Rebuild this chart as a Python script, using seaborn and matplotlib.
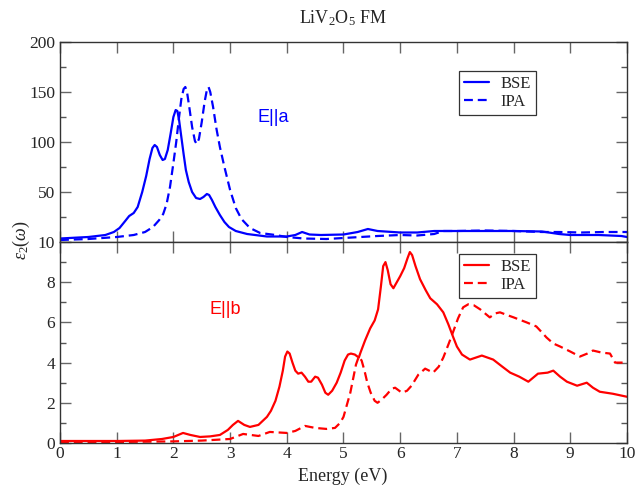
import matplotlib
matplotlib.use("Agg")
import matplotlib.pyplot as plt
import seaborn as sns
import numpy as np
import pandas as pd
from matplotlib.ticker import MultipleLocator

# ---------------- data ----------------
top_bse_e = [0, 0.5, 0.8, 0.95, 1.05, 1.15, 1.22, 1.3, 1.37, 1.45, 1.52, 1.58, 1.63, 1.67, 1.71, 1.76, 1.81,
             1.85, 1.9, 1.95, 2.0, 2.04, 2.07, 2.1, 2.14, 2.18, 2.22, 2.27, 2.33, 2.4, 2.47, 2.53, 2.59, 2.63,
             2.68, 2.74, 2.82, 2.9, 2.98, 3.1, 3.3, 3.65, 4.0, 4.15, 4.27, 4.4, 4.6, 5.0, 5.25, 5.43,
             5.6, 6.0, 6.3, 6.6, 7.0, 7.5, 8.0, 8.5, 8.8, 9.0, 9.5, 9.9, 10.0]
top_bse_v = [3.5, 5, 7, 10, 14, 21, 26, 29, 35, 50, 66, 83, 94, 97, 95, 87, 82,
             83, 92, 108, 125, 132, 131, 122, 105, 88, 72, 60, 50, 44, 43, 45, 48, 47,
             42, 35, 27, 20, 15, 11, 8, 5.5, 5.5, 7, 10, 7.5, 7, 7.5, 10, 13,
             11, 9.5, 9.5, 11, 11, 11, 11, 10.5, 8, 7, 7, 6, 5]

top_ipa_e = [0, 0.5, 1.0, 1.3, 1.5, 1.64, 1.75, 1.82, 1.88, 1.94, 2.0, 2.05, 2.1, 2.14, 2.18, 2.21, 2.24,
             2.28, 2.33, 2.38, 2.41, 2.45, 2.5, 2.55, 2.59, 2.62, 2.65, 2.7, 2.76, 2.82, 2.9, 3.0, 3.1,
             3.2, 3.35, 3.53, 3.8, 4.0, 4.3, 4.7, 5.0, 5.3, 5.6, 6.0, 6.3, 6.6,
             6.76, 7.0, 7.5, 8.0, 8.5, 8.8, 9.2, 9.6, 10.0]
top_ipa_v = [2, 3, 5, 7, 10, 15, 22, 28, 38, 55, 79, 100, 125, 143, 153, 155, 150,
             135, 115, 101, 98, 103, 120, 140, 152, 155, 150, 135, 113, 95, 75, 52, 34,
             23, 14, 9, 7, 5, 3.5, 3, 4, 5, 6, 7, 6.5, 8,
             11, 11, 11.5, 11, 10, 10, 9.5, 10, 10]

bot_bse_e = [0, 1.0, 1.5, 1.8, 2.0, 2.17, 2.3, 2.47, 2.65, 2.82, 2.96, 3.05, 3.14, 3.25, 3.35, 3.5, 3.65,
             3.72, 3.8, 3.87, 3.93, 3.97, 4.01, 4.05, 4.1, 4.15, 4.2, 4.26, 4.32, 4.38, 4.43, 4.5, 4.55,
             4.62, 4.68, 4.73, 4.8, 4.88, 4.95, 5.02, 5.08, 5.13, 5.2, 5.27, 5.3, 5.38, 5.47, 5.55, 5.61,
             5.66, 5.7, 5.74, 5.78, 5.83, 5.88, 5.94, 6.0, 6.07, 6.13, 6.17, 6.21, 6.27, 6.35, 6.45, 6.53,
             6.65, 6.76, 6.85, 6.93, 7.0, 7.09, 7.23, 7.44, 7.64, 7.8, 7.94, 8.1, 8.26, 8.43, 8.6, 8.7,
             8.82, 8.94, 9.12, 9.29, 9.4, 9.52, 9.75, 10.0]
bot_bse_v = [0.1, 0.1, 0.12, 0.2, 0.3, 0.5, 0.4, 0.3, 0.33, 0.4, 0.65, 0.9, 1.1, 0.9, 0.8, 0.9, 1.3,
             1.6, 2.1, 2.8, 3.6, 4.3, 4.55, 4.45, 4.0, 3.6, 3.45, 3.5, 3.3, 3.05, 3.05, 3.3, 3.25,
             2.9, 2.5, 2.4, 2.6, 3.0, 3.5, 4.1, 4.4, 4.45, 4.4, 4.25, 4.5, 5.1, 5.7, 6.1, 6.65,
             7.8, 8.8, 9.0, 8.6, 7.9, 7.7, 8.0, 8.3, 8.7, 9.2, 9.5, 9.35, 8.8, 8.15, 7.6, 7.2,
             6.9, 6.5, 5.9, 5.3, 4.8, 4.4, 4.15, 4.35, 4.15, 3.8, 3.5, 3.3, 3.05, 3.45, 3.5, 3.6,
             3.3, 3.05, 2.85, 3.0, 2.75, 2.55, 2.45, 2.3]

bot_ipa_e = [0, 1.0, 2.0, 2.5, 3.0, 3.23, 3.5, 3.7, 4.0, 4.15, 4.32, 4.5, 4.7, 4.85, 4.94, 5.0, 5.06, 5.12,
             5.17, 5.22, 5.27, 5.32, 5.37, 5.42, 5.48, 5.55, 5.6, 5.67, 5.76, 5.85, 5.91, 6.03, 6.12, 6.2,
             6.32, 6.44, 6.58, 6.68, 6.76, 6.85, 6.93, 7.02, 7.11, 7.2, 7.3, 7.41, 7.58, 7.68, 7.76, 7.9,
             8.0, 8.23, 8.4, 8.5, 8.58, 8.7, 8.82, 9.0, 9.17, 9.3, 9.4, 9.55, 9.7, 9.79, 10.0]
bot_ipa_v = [0.05, 0.05, 0.08, 0.12, 0.2, 0.45, 0.35, 0.55, 0.5, 0.6, 0.85, 0.75, 0.7, 0.75, 1.0, 1.3, 1.9, 2.5,
             3.2, 3.9, 4.3, 4.1, 3.6, 3.0, 2.5, 2.1, 2.0, 2.15, 2.4, 2.7, 2.75, 2.5, 2.6, 2.85,
             3.4, 3.7, 3.5, 3.8, 4.25, 4.9, 5.5, 6.2, 6.75, 6.9, 6.85, 6.65, 6.25, 6.45, 6.5, 6.35,
             6.25, 6.0, 5.8, 5.5, 5.25, 4.95, 4.8, 4.55, 4.3, 4.45, 4.6, 4.5, 4.45, 4.0, 4.0]

series_labels = ["BSE", "IPA"]
x_ticks = list(range(0, 11))
top_yticks = [0, 50, 100, 150, 200]
top_yticklabels = ["", "50", "100", "150", "200"]
bot_yticks = [0, 2, 4, 6, 8, 10]

# ---------------- style ----------------
sns.set_style("ticks")
plt.rcParams["font.family"] = ["Liberation Serif", "DejaVu Serif"]
plt.rcParams["mathtext.fontset"] = "custom"
plt.rcParams["mathtext.rm"] = "Liberation Serif"
plt.rcParams["mathtext.it"] = "Liberation Serif:italic"

fig = plt.figure(figsize=(6.37, 4.87), dpi=100)
L, R = 60 / 637, 627 / 637
y_top = 1 - 42 / 487
y_mid = 1 - 242 / 487
y_bot = 1 - 443 / 487
ax1 = fig.add_axes([L, y_mid, R - L, y_top - y_mid])
ax2 = fig.add_axes([L, y_bot, R - L, y_mid - y_bot])

lw = 1.6
dash = (4, 2.2)


def draw(ax, e_solid, v_solid, e_dash, v_dash, color):
    sns.lineplot(x=e_solid, y=v_solid, ax=ax, color=color, lw=lw, label=series_labels[0],
                 estimator=None, sort=False)
    sns.lineplot(x=e_dash, y=v_dash, ax=ax, color=color, lw=lw, label=series_labels[1],
                 estimator=None, sort=False)
    ax.lines[-1].set_dashes(dash)


draw(ax1, top_bse_e, top_bse_v, top_ipa_e, top_ipa_v, "#0000ff")
draw(ax2, bot_bse_e, bot_bse_v, bot_ipa_e, bot_ipa_v, "#ff0000")

for ax in (ax1, ax2):
    ax.set_xlim(0, 10)
    ax.set_xticks(x_ticks)
    ax.tick_params(axis="both", which="major", direction="in", length=8, width=1.0,
                   color="#666666", top=True, right=True, labelsize=12.5)
    ax.tick_params(axis="y", which="minor", direction="in", length=4.5, width=1.0,
                   color="#555555", left=True, right=True)
    ax.tick_params(axis="x", which="minor", bottom=False, top=False)
    for s in ax.spines.values():
        s.set_linewidth(1.0)
        s.set_color("#333333")
    ax.set_xlabel("")
    ax.set_ylabel("")

ax1.set_ylim(0, 200)
ax1.set_yticks(top_yticks)
ax1.set_yticklabels(top_yticklabels)
ax1.yaxis.set_minor_locator(MultipleLocator(25))
ax1.tick_params(axis="x", labelbottom=False)

ax2.set_ylim(0, 10)
ax2.set_yticks(bot_yticks)
ax2.yaxis.set_minor_locator(MultipleLocator(1))
ax2.tick_params(axis="x", pad=2)

for ax, ytop in ((ax1, (242 - 71) / 200), (ax2, (443 - 254) / 201)):
    leg = ax.legend(loc="upper left", bbox_to_anchor=(0.704, ytop), fontsize=12,
                    frameon=True, fancybox=False, handlelength=1.5, handletextpad=0.7,
                    borderpad=0.3, labelspacing=0.1, borderaxespad=0)
    leg.get_frame().set_edgecolor("black")
    leg.get_frame().set_linewidth(0.9)
    for h in leg.get_lines():
        h.set_linewidth(1.6)

ax1.text((273 - 60) / 567, (242 - 118) / 200, "E||a", transform=ax1.transAxes, color="#0000ff",
         fontsize=13, family=["Liberation Sans", "DejaVu Sans"], ha="center", va="center")
ax2.text((225 - 60) / 567, (443 - 310) / 201, "E||b", transform=ax2.transAxes, color="#ff0000",
         fontsize=13, family=["Liberation Sans", "DejaVu Sans"], ha="center", va="center")

fig.text(343 / 637, 1 - 18 / 487, r"LiV$_2$O$_5$ FM", ha="center", va="center", fontsize=13)
fig.text(343 / 637, 1 - 476 / 487, "Energy (eV)", ha="center", va="center", fontsize=13)
fig.text(21 / 637, 1 - 240 / 487, r"$\varepsilon_2(\omega)$", ha="center", va="center",
         rotation=90, fontsize=13)

fig.savefig("out.png", dpi=100)
